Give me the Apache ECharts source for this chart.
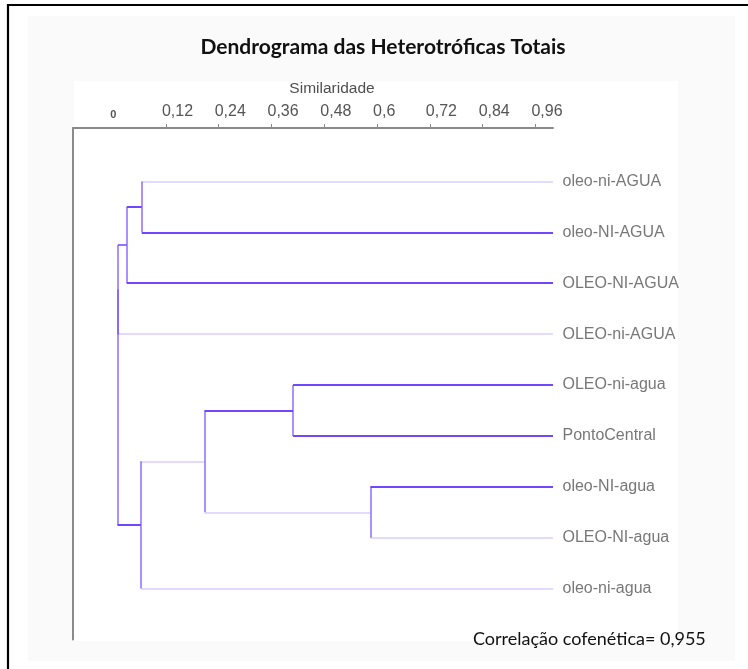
<!DOCTYPE html>
<html>
<head>
<meta charset="utf-8">
<script src="https://cdn.jsdelivr.net/npm/echarts@6/dist/echarts.min.js"></script>
<style>
  html, body { margin: 0; padding: 0; background: #ffffff; }
  #chart { width: 748px; height: 669px; }
</style>
</head>
<body>
<div id="chart"></div>
<script>
// Leaves, top to bottom
const leafNames = [
  'oleo-ni-AGUA', 'oleo-NI-AGUA', 'OLEO-NI-AGUA', 'OLEO-ni-AGUA',
  'OLEO-ni-agua', 'PontoCentral', 'oleo-NI-agua', 'OLEO-NI-agua', 'oleo-ni-agua'
];

// Agglomeration steps: new cluster id, the two joined members, similarity at the join
const clusterIds = ['A', 'B', 'C', 'F', 'G', 'E', 'D', 'root'];
const clusterMembers = [
  ['oleo-ni-AGUA', 'oleo-NI-AGUA'],
  ['A', 'OLEO-NI-AGUA'],
  ['B', 'OLEO-ni-AGUA'],
  ['OLEO-ni-agua', 'PontoCentral'],
  ['oleo-NI-agua', 'OLEO-NI-agua'],
  ['F', 'G'],
  ['E', 'oleo-ni-agua'],
  ['C', 'D']
];
const clusterSimilarity = [0.065, 0.031, 0.0108, 0.409, 0.585, 0.208, 0.063, 0.0098];

// Similarity axis
const tickValues = [0, 0.12, 0.24, 0.36, 0.48, 0.6, 0.72, 0.84, 0.96];
const tickLabels = ['0', '0,12', '0,24', '0,36', '0,48', '0,6', '0,72', '0,84', '0,96'];

const cophenetic = '0,955';

// Branch tones (branch = horizontal stroke leading from a member to its parent join)
const strongBranches = new Set(['oleo-NI-AGUA', 'A', 'OLEO-NI-AGUA', 'OLEO-ni-agua', 'PontoCentral', 'F', 'oleo-NI-agua', 'D']);
const midBranches = new Set(['B']);
const COLOR_STRONG = 'rgb(112, 70, 255)';
const COLOR_MID = 'rgb(150, 115, 255)';
const COLOR_FAINT = 'rgb(226, 219, 255)';
const COLOR_STEM = 'rgba(118, 78, 255, 0.62)';

// Node coordinates: x = similarity, y = leaf row (clusters sit midway between members)
const nodePos = {};
leafNames.forEach((n, i) => { nodePos[n] = [1, i]; });
clusterIds.forEach((id, k) => {
  const [a, b] = clusterMembers[k];
  nodePos[id] = [clusterSimilarity[k], (nodePos[a][1] + nodePos[b][1]) / 2];
});

const faintSegs = [], midSegs = [], strongSegs = [], stemSegs = [];
clusterIds.forEach((id, k) => {
  const s = clusterSimilarity[k];
  const [a, b] = clusterMembers[k];
  stemSegs.push({ coords: [[s, nodePos[a][1]], [s, nodePos[b][1]]] });
  [a, b].forEach(m => {
    const p = nodePos[m];
    if (Math.abs(p[0] - s) < 1e-9) return;
    const seg = { coords: [[p[0], p[1]], [s, p[1]]] };
    if (strongBranches.has(m)) strongSegs.push(seg);
    else if (midBranches.has(m)) midSegs.push(seg);
    else faintSegs.push(seg);
  });
});

function segSeries(data, color, width, z) {
  return {
    type: 'lines',
    coordinateSystem: 'cartesian2d',
    data: data,
    z: z,
    silent: true,
    lineStyle: { color: color, width: width, opacity: 1 },
    symbol: 'none'
  };
}

const chart = echarts.init(document.getElementById('chart'), null, { renderer: 'canvas' });

const option = {
  animation: false,
  backgroundColor: '#ffffff',
  title: {
    text: 'Dendrograma das Heterotróficas Totais',
    left: 378,
    top: 32,
    textAlign: 'center',
    textStyle: { fontFamily: 'Lato', fontWeight: 'bold', fontSize: 21, color: '#111111' }
  },
  graphic: [
    { type: 'rect', z: -30, silent: true, shape: { x: 8, y: 5, width: 760, height: 700 },
      style: { fill: '#ffffff', stroke: '#000000', lineWidth: 2.2 } },
    { type: 'rect', z: -20, silent: true, shape: { x: 28, y: 16, width: 707, height: 645 },
      style: { fill: '#fafafa' } },
    { type: 'rect', z: -10, silent: true, shape: { x: 74, y: 81, width: 604, height: 560 },
      style: { fill: '#ffffff' } },
    { type: 'text', z: 10, silent: true, x: 473, y: 639,
      style: { text: 'Correlação cofenética= ' + cophenetic, fontFamily: 'Lato', fontSize: 18,
               fill: '#111111', align: 'left', verticalAlign: 'middle' } }
  ],
  grid: { left: 73, right: 195, top: 128, bottom: 29.5, containLabel: false, outerBoundsMode: 'none' },
  xAxis: {
    type: 'value',
    position: 'top',
    min: -0.0913,
    max: 1.0,
    name: 'Similaridade',
    nameLocation: 'middle',
    nameGap: 31,
    nameTextStyle: { fontFamily: 'Liberation Sans', fontSize: 15.5, color: '#505050', padding: [0, 0, 0, 38] },
    axisLine: { show: true, onZero: false, lineStyle: { color: '#8a8a8a', width: 2 } },
    axisTick: { show: true, customValues: tickValues.slice(1), length: 4, inside: false,
                lineStyle: { color: '#8a8a8a', width: 1 } },
    axisLabel: {
      show: true,
      customValues: tickValues,
      margin: 8,
      align: 'left',
      fontFamily: 'Liberation Sans',
      fontSize: 16,
      color: '#555555',
      formatter: function (v) {
        const i = tickValues.findIndex(t => Math.abs(t - v) < 1e-6);
        const t = i >= 0 ? tickLabels[i] : '';
        return i === 0 ? '{z|' + t + '}' : '{n|' + t + '}';
      },
      rich: {
        n: { fontFamily: 'Liberation Sans', fontSize: 16, color: '#555555', padding: [0, 0, 0, -4] },
        z: { fontFamily: 'Liberation Sans', fontSize: 11, fontWeight: 'bold', color: '#555555', padding: [0, 0, 0, -3] }
      }
    },
    splitLine: { show: false }
  },
  yAxis: {
    type: 'value',
    inverse: true,
    min: -1.05,
    max: 9,
    axisLine: { show: true, onZero: false, lineStyle: { color: '#8a8a8a', width: 2 } },
    axisTick: { show: false },
    axisLabel: { show: false },
    splitLine: { show: false }
  },
  series: [
    segSeries(faintSegs, COLOR_FAINT, 2, 2),
    segSeries(midSegs, COLOR_MID, 2, 3),
    segSeries(stemSegs, COLOR_STEM, 2, 4),
    segSeries(strongSegs, COLOR_STRONG, 1.8, 5),
    {
      type: 'scatter',
      silent: true,
      symbol: 'circle',
      symbolSize: 1,
      itemStyle: { color: 'rgba(0,0,0,0)' },
      data: leafNames.map((n, i) => ({ name: n, value: [nodePos[n][0], nodePos[n][1]] })),
      label: {
        show: true,
        position: 'right',
        distance: 9,
        formatter: '{b}',
        fontFamily: 'Liberation Sans',
        fontSize: 16,
        color: '#555555'
      },
      z: 6
    }
  ]
};

chart.setOption(option);
</script>
</body>
</html>
